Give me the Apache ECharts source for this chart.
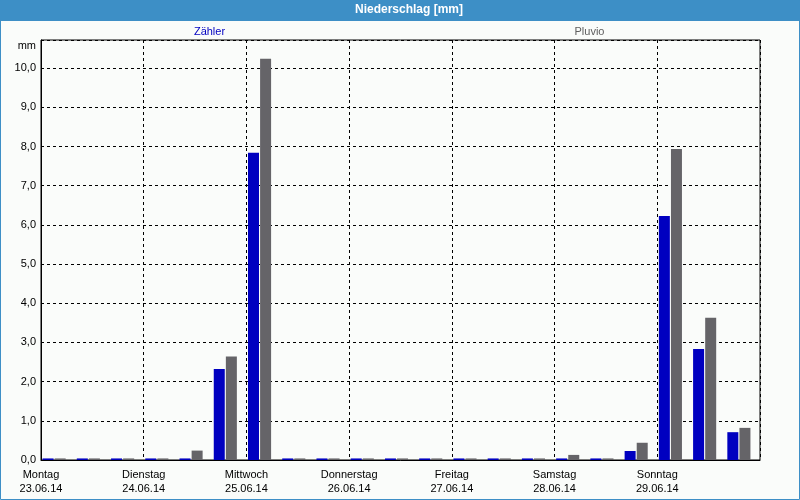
<!DOCTYPE html>
<html><head><meta charset="utf-8">
<script src="https://cdn.jsdelivr.net/npm/echarts@6/dist/echarts.min.js"></script>
<style>html,body{margin:0;padding:0;background:#fafcfa}#c{width:800px;height:500px}</style>
</head><body><div id="c"></div>
<script>
const days = ['Montag','Dienstag','Mittwoch','Donnerstag','Freitag','Samstag','Sonntag'];
const dates = ['23.06.14','24.06.14','25.06.14','26.06.14','27.06.14','28.06.14','29.06.14'];
const slots = ['23.06 00h','23.06 08h','23.06 16h','24.06 00h','24.06 08h','24.06 16h',
  '25.06 00h','25.06 08h','25.06 16h','26.06 00h','26.06 08h','26.06 16h',
  '27.06 00h','27.06 08h','27.06 16h','28.06 00h','28.06 08h','28.06 16h',
  '29.06 00h','29.06 08h','29.06 16h'];
const zaehler = [0.04,0.04,0.04, 0.04,0.04,2.32, 7.84,0.04,0.04, 0.04,0.04,0.04, 0.04,0.04,0.04, 0.04,0.04,0.23, 6.23,2.83,0.71];
const pluvio  = [0.04,0.04,0.04, 0.04,0.24,2.64, 10.24,0.04,0.04, 0.04,0.04,0.04, 0.04,0.04,0.04, 0.13,0.04,0.44, 7.94,3.63,0.82];
const yTicks = [0,1,2,3,4,5,6,7,8,9,10];

const FONT = 'Liberation Sans';
const blue = '#0000c0', gray = '#656468', frame = '#3d8fc6';
const chart = echarts.init(document.getElementById('c'), null, {renderer:'canvas'});
const yMax = 10.72;
chart.setOption({
  backgroundColor: '#fafcfa',
  animation: false,
  textStyle: {fontFamily: FONT},
  graphic: [
    {type:'rect', shape:{x:0,y:0,width:800,height:21}, style:{fill:frame}, z:0},
    {type:'rect', shape:{x:0.5,y:0.5,width:799,height:499}, style:{fill:null, stroke:frame, lineWidth:1}, z:100}
  ],
  title: [
    {text:'Niederschlag [mm]', left:409, top:4, padding:0, textAlign:'center',
     textStyle:{color:'#fff', fontWeight:'bold', fontSize:12, fontFamily:FONT}},
    {text:'Zähler', left:209.5, top:26, padding:0, textAlign:'center',
     textStyle:{color:blue, fontWeight:'normal', fontSize:11, fontFamily:FONT}},
    {text:'Pluvio', left:589.5, top:26, padding:0, textAlign:'center',
     textStyle:{color:'#606060', fontWeight:'normal', fontSize:11, fontFamily:FONT}}
  ],
  grid: [
    {left:41, right:40, top:40, bottom:40, show:true, borderColor:'#000', borderWidth:1, backgroundColor:'transparent'},
    {left:37, right:44, top:40, bottom:40}
  ],
  xAxis: [
    {type:'value', gridIndex:0, min:0, max:days.length, interval:1,
     axisLine:{show:true, lineStyle:{color:'#000', width:1}},
     axisTick:{show:false},
     axisLabel:{color:'#000', fontSize:11, fontFamily:FONT, lineHeight:14, margin:8,
       formatter: v => v < days.length ? days[v] + '\n' + dates[v] : ''},
     splitLine:{show:true, lineStyle:{color:'#000', type:[3,3], width:1}}},
    {type:'category', gridIndex:1, data:slots, show:false}
  ],
  yAxis: [
    {type:'value', gridIndex:0, min:0, max:yMax, interval:1,
     name:'mm', nameLocation:'end', nameGap:-6,
     nameTextStyle:{color:'#000', fontSize:11, fontFamily:FONT, align:'right', verticalAlign:'middle', padding:[0,5,0,0]},
     axisLine:{show:true, lineStyle:{color:'#000', width:1}},
     axisTick:{show:false},
     axisLabel:{color:'#000', fontSize:11, fontFamily:FONT, margin:5,
       formatter: v => yTicks.indexOf(v) >= 0 ? v.toFixed(1).replace('.', ',') : ''},
     splitLine:{show:true, lineStyle:{color:'#000', type:[3,3], width:1}}},
    {type:'value', gridIndex:1, min:0, max:yMax, show:false}
  ],
  series: [
    {name:'Zähler', type:'bar', xAxisIndex:1, yAxisIndex:1, data:zaehler, barWidth:11, barGap:'10%',
     itemStyle:{color:blue}},
    {name:'Pluvio', type:'bar', xAxisIndex:1, yAxisIndex:1, data:pluvio, barWidth:11, barGap:'10%',
     itemStyle:{color:gray}}
  ]
});
</script></body></html>
